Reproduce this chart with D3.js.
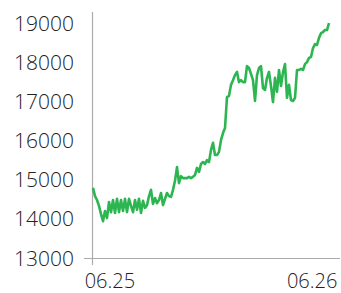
<!DOCTYPE html>
<html>
<head>
<meta charset="utf-8">
<script src="https://cdn.jsdelivr.net/npm/d3@7"></script>
<style>
  body { margin: 0; background: #fff; }
  text { font-family: "Open Sans", sans-serif; font-weight: 300; fill: #222; }
</style>
</head>
<body>
<div id="chart"></div>
<script>
// index values, sampled evenly from 06.24 22:00 to 06.26 02:00
var values = [
  14790, 14580, 14480, 14330, 14120, 13940, 14200, 14020, 14430, 14170,
  14480, 14150, 14510, 14170, 14480, 14200, 14510, 14170, 14510, 14330,
  14170, 14480, 14230, 14510, 14150, 14460, 14280, 14350, 14580, 14740,
  14380, 14530, 14400, 14480, 14660, 14350, 14510, 14660, 14580, 14560,
  14740, 14970, 15320, 14910, 15090, 15040, 15040, 15040, 15070, 15040,
  15070, 15120, 15300, 15200, 15400, 15450, 15400, 15500, 15450, 15760,
  15940, 15630, 15630, 15710, 16010, 16190, 16320, 17110, 17140, 17420,
  17540, 17670, 17750, 17490, 17540, 17490, 17490, 17900, 17850, 17700,
  17540, 17010, 17670, 17850, 17900, 17340, 17290, 17600, 17750, 17390,
  16980, 17600, 17240, 17800, 17390, 17750, 17950, 17090, 17420, 17030,
  17010, 17090, 17800, 17800, 17830, 17800, 17950, 18000, 18110, 18130,
  18360, 18460, 18440, 18620, 18740, 18770, 18820, 18820, 19000
];
var yTicks = [13000, 14000, 15000, 16000, 17000, 18000, 19000];
var xTickLabels = ["06.25", "06.26"];

var width = 341, height = 293;
var startTime = new Date(2024, 5, 24, 22, 0);
var endTime = new Date(2024, 5, 26, 2, 0);
var xTicks = [new Date(2024, 5, 25), new Date(2024, 5, 26)];

var svg = d3.select("#chart").append("svg")
    .attr("width", width)
    .attr("height", height);

var step = (endTime - startTime) / (values.length - 1);
var data = values.map(function(v, i) {
    return { t: new Date(+startTime + i * step), v: v };
});

var x = d3.scaleTime()
    .domain([startTime, endTime])
    .range([93, 329]);

var y = d3.scaleLinear()
    .domain([13000, 19000])
    .range([258, 23]);

// axis lines
svg.append("line")
    .attr("x1", 92.5).attr("x2", 92.5)
    .attr("y1", 12).attr("y2", 265)
    .attr("stroke", "#aaa")
    .attr("stroke-width", 1.2);

svg.append("line")
    .attr("x1", 84).attr("x2", 340)
    .attr("y1", y(13000) + 0.5).attr("y2", y(13000) + 0.5)
    .attr("stroke", "#aaa")
    .attr("stroke-width", 1.2);

// y labels
svg.selectAll(".ylab")
    .data(yTicks)
    .enter().append("text")
        .attr("class", "ylab")
        .attr("x", 74)
        .attr("y", function(d) { return y(d); })
        .attr("dy", "0.36em")
        .attr("text-anchor", "end")
        .style("font-size", "21px")
        .text(function(d) { return d; });

// x labels
svg.selectAll(".xlab")
    .data(xTicks)
    .enter().append("text")
        .attr("class", "xlab")
        .attr("x", function(d) { return x(d); })
        .attr("y", 288)
        .attr("text-anchor", "middle")
        .style("font-size", "20px")
        .text(function(d, i) { return xTickLabels[i]; });

var line = d3.line()
    .x(function(d) { return x(d.t); })
    .y(function(d) { return y(d.v); });

svg.append("path")
    .datum(data)
    .attr("fill", "none")
    .attr("stroke", "#2db552")
    .attr("stroke-width", 2.6)
    .attr("stroke-linejoin", "round")
    .attr("d", line);
</script>
</body>
</html>
